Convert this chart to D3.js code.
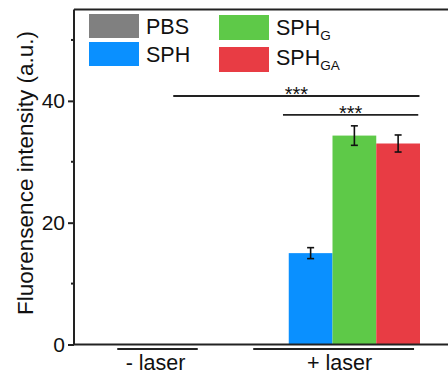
<!DOCTYPE html>
<html><head><meta charset="utf-8">
<script src="https://cdn.jsdelivr.net/npm/d3@7"></script>
<style>body{margin:0;background:#fff}svg{display:block;font-family:Arial,"Liberation Sans",sans-serif}</style>
</head><body><svg id="c" width="448" height="376"></svg>
<script>
const groups = ["- laser", "+ laser"];
const series = ["PBS", "SPH", "SPH_G", "SPH_GA"];
const seriesColors = ["#808080", "#0a90ff", "#5ec948", "#e83c44"];
const minusLaser = [0, 0, 0, 0];
const plusLaser = [0, 15.0, 34.3, 33.0];
const minusErr = [0, 0, 0, 0];
const plusErr = [0, 0.9, 1.6, 1.4];
const yTicks = [0, 20, 40];
const yMinor = [10, 30, 50];
const sigFrom = [0.59, 1.217];
const sigTo = [1.997, 1.99];
const sigLevel = [40.8, 37.7];
const sigLabel = ["***", "***"];
const underlineFrom = [0.27, 1.047];
const underlineTo = [0.73, 1.966];

const svg = d3.select("#c");
const ink = "#222";
const L = 74, R = 470, T = 9.5, B = 344.5;
const y = d3.scaleLinear().domain([0, 55]).range([B, T]);
const x0 = d3.scaleBand().domain(groups).range([70, 420]).padding(0);
const x1 = d3.scaleBand().domain(series).range([0, x0.bandwidth()]).padding(0);
const xg = d3.scaleLinear().domain([0, 2]).range([70, 420]);
const color = d3.scaleOrdinal().domain(series).range(seriesColors);

const data = groups.map((g, gi) => ({
  g, vals: series.map((s, si) => ({ s, v: (gi ? plusLaser : minusLaser)[si], e: (gi ? plusErr : minusErr)[si] }))
}));

// bars
const gg = svg.append("g").selectAll("g").data(data).join("g")
  .attr("transform", d => `translate(${x0(d.g)},0)`);
gg.selectAll("rect").data(d => d.vals.filter(v => v.v > 0)).join("rect")
  .attr("x", d => x1(d.s)).attr("width", x1.bandwidth())
  .attr("y", d => y(d.v)).attr("height", d => y(0) - y(d.v))
  .attr("fill", d => color(d.s));
// error bars
const eb = gg.selectAll("g.eb").data(d => d.vals.filter(v => v.e > 0)).join("g").attr("class", "eb")
  .attr("stroke", "#111").attr("stroke-width", 1.6);
eb.append("line").attr("x1", d => x1(d.s) + x1.bandwidth() / 2).attr("x2", d => x1(d.s) + x1.bandwidth() / 2)
  .attr("y1", d => y(d.v + d.e)).attr("y2", d => y(d.v - d.e));
eb.append("line").attr("x1", d => x1(d.s) + x1.bandwidth() / 2 - 3.5).attr("x2", d => x1(d.s) + x1.bandwidth() / 2 + 3.5)
  .attr("y1", d => y(d.v + d.e)).attr("y2", d => y(d.v + d.e));
eb.append("line").attr("x1", d => x1(d.s) + x1.bandwidth() / 2 - 3.5).attr("x2", d => x1(d.s) + x1.bandwidth() / 2 + 3.5)
  .attr("y1", d => y(d.v - d.e)).attr("y2", d => y(d.v - d.e));

// frame
svg.append("line").attr("x1", L).attr("x2", R).attr("y1", T).attr("y2", T).attr("stroke", ink).attr("stroke-width", 2);
svg.append("line").attr("x1", L).attr("x2", R).attr("y1", B).attr("y2", B).attr("stroke", ink).attr("stroke-width", 2);

// y axis
const ya = svg.append("g").attr("transform", `translate(${L},0)`)
  .call(d3.axisLeft(y).tickValues(yTicks).tickSize(6).tickPadding(3).tickFormat(d3.format("d")));
ya.select(".domain").remove();
ya.append("line").attr("x1", 0).attr("x2", 0).attr("y1", T).attr("y2", B).attr("stroke", ink).attr("stroke-width", 2);
ya.selectAll(".tick line").attr("stroke", ink).attr("stroke-width", 2);
ya.selectAll(".tick text").attr("fill", "#111").style("font-size", "21px").style("font-family", "Arial,'Liberation Sans',sans-serif");
ya.selectAll("line.minor").data(yMinor).join("line").attr("class", "minor")
  .attr("x1", -3).attr("x2", 0).attr("y1", d => y(d)).attr("y2", d => y(d)).attr("stroke", ink).attr("stroke-width", 2);

svg.append("text").attr("transform", `translate(33,173) rotate(-90)`).attr("text-anchor", "middle")
  .style("font-size", "22.5px").attr("fill", "#111").text("Fluorensence intensity (a.u.)");

// x group labels
groups.forEach((g, i) => {
  svg.append("line").attr("x1", xg(underlineFrom[i])).attr("x2", xg(underlineTo[i])).attr("y1", 349).attr("y2", 349)
    .attr("stroke", ink).attr("stroke-width", 2);
  svg.append("text").attr("x", (xg(underlineFrom[i]) + xg(underlineTo[i])) / 2 + (i ? 6 : -2)).attr("y", 370)
    .attr("text-anchor", "middle").style("font-size", "21.5px").attr("fill", "#111").text(g);
});

// significance
sigLevel.forEach((lv, i) => {
  svg.append("line").attr("x1", xg(sigFrom[i])).attr("x2", xg(sigTo[i])).attr("y1", y(lv)).attr("y2", y(lv))
    .attr("stroke", ink).attr("stroke-width", 1.8);
  svg.append("text").attr("x", (xg(sigFrom[i]) + xg(sigTo[i])) / 2).attr("y", y(lv) + 5.5)
    .attr("text-anchor", "middle").style("font-size", "20px").attr("fill", "#111").text(sigLabel[i]);
});

// legend
const legPos = [[89, 14], [89, 42], [219, 15], [219, 47]];
const legTextY = [20, 20, 20, 18];
const lg = svg.append("g").selectAll("g").data(series).join("g")
  .attr("transform", (d, i) => `translate(${legPos[i][0]},${legPos[i][1]})`);
lg.append("rect").attr("width", 50).attr("height", (d, i) => i < 2 ? 24 : 25).attr("fill", d => color(d));
lg.each(function (d, i) {
  const parts = d.split("_");
  const t = d3.select(this).append("text").attr("x", 57).attr("y", legTextY[i]).style("font-size", "21.5px").attr("fill", "#111");
  t.append("tspan").text(parts[0]);
  if (parts[1]) t.append("tspan").attr("dy", 5).style("font-size", "13.5px").text(parts[1]);
});
</script></body></html>
